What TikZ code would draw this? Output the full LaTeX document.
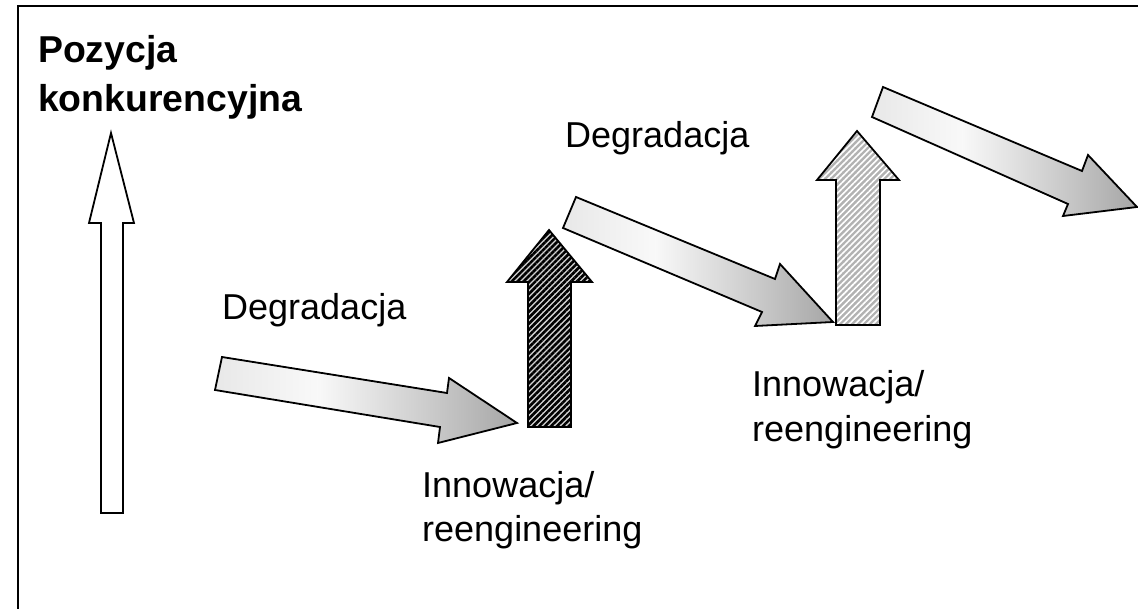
\documentclass[tikz,border=0pt]{standalone}
\usepackage{fontspec}
\setmainfont{Liberation Sans}
\usetikzlibrary{patterns.meta}
\pgfdeclarehorizontalshading{arrowgrad}{100bp}{color(0bp)=(gray!18); color(25bp)=(gray!18); color(42bp)=(gray!5); color(60bp)=(gray!40); color(75bp)=(gray!70); color(100bp)=(gray!70)}
\begin{document}
\begin{tikzpicture}[x=1pt,y=-1pt,
  frame/.style={line width=2.5pt,black},
  outl/.style={draw=black,line width=1.8pt,line join=miter},
  gradarrow/.style={outl,shading=arrowgrad},
  whitearrow/.style={outl,fill=white},
  darkarrow/.style={outl,preaction={fill=gray!35},pattern={Lines[angle=45,distance=4.2pt,line width=2.6pt]},pattern color=black},
  lightarrow/.style={outl,preaction={fill=gray!60},pattern={Lines[angle=45,distance=4.2pt,line width=1.6pt]},pattern color=white},
  lbl/.style={inner sep=0pt,anchor=base west,font=\fontsize{36}{43}\selectfont},
  blbl/.style={lbl,font=\fontsize{37.4}{44}\selectfont\bfseries}]
\useasboundingbox (0,0) rectangle (1138,609);
% frame
\draw[frame] (18,609) -- (18,6) -- (1138,6);
% vertical axis arrow
\path[whitearrow] (111,133) -- (134,223) -- (123,223) -- (123,513) -- (101,513) -- (101,223) -- (89,223) -- cycle;
% degradation arrows
\path[gradarrow] (222,357) -- (447,393) -- (449,378) -- (517,423) -- (438,443) -- (440,427) -- (215,390) -- cycle;
\path[gradarrow] (576,197) -- (775,279) -- (780,264) -- (833,322) -- (755,326) -- (762,312) -- (563,228) -- cycle;
\path[gradarrow] (883,87) -- (1082,171) -- (1088,155) -- (1137,207) -- (1063,216) -- (1068,204) -- (872,117) -- cycle;
% innovation arrows
\path[darkarrow] (549,230) -- (592,282) -- (571,282) -- (571,427) -- (528,427) -- (528,282) -- (507,282) -- cycle;
\path[lightarrow] (857,131) -- (899,180) -- (880,180) -- (880,325) -- (836,325) -- (836,180) -- (817,180) -- cycle;
% labels
\node[blbl] (poz1) at (38,63) {Pozycja};
\node[blbl] (poz2) at (38,112) {konkurencyjna};
\node[lbl] (degA) at (222,320) {Degradacja};
\node[lbl] (degB) at (565,148) {Degradacja};
\node[lbl] (innA1) at (422,497) {Innowacja/};
\node[lbl] (innA2) at (422,541) {reengineering};
\node[lbl] (innB1) at (752,397) {Innowacja/};
\node[lbl] (innB2) at (752,442) {reengineering};
\end{tikzpicture}
\end{document}
